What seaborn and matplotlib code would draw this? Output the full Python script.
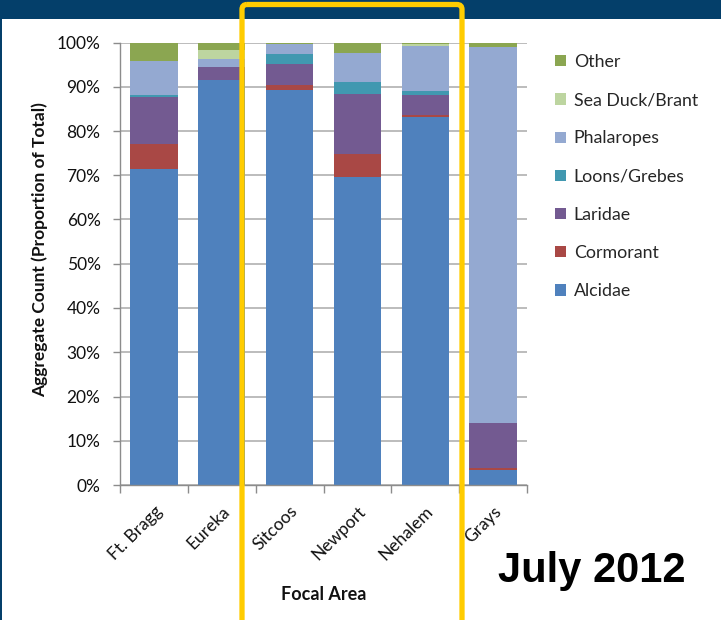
import matplotlib
matplotlib.use("Agg")
import matplotlib.pyplot as plt
import matplotlib.ticker as mticker
from matplotlib.patches import Rectangle, FancyBboxPatch
import numpy as np
import pandas as pd
import seaborn as sns

# Survey areas along the coast
areas = ["Ft. Bragg", "Eureka", "Sitcoos", "Newport", "Nehalem", "Grays"]

# Share of the aggregate count (%) per group, bottom of stack first
alcidae     = [71.4, 91.5, 89.2, 69.5, 83.1, 3.5]
cormorant   = [5.6, 0.0, 1.1, 5.4, 0.6, 0.3]
laridae     = [10.6, 2.9, 4.8, 13.4, 4.4, 10.2]
loons       = [0.5, 0.0, 2.4, 2.7, 1.0, 0.0]
phalaropes  = [7.7, 1.8, 2.1, 6.6, 10.0, 84.9]
sea_duck    = [0.0, 2.1, 0.0, 0.0, 0.6, 0.0]
other       = [4.2, 1.7, 0.4, 2.4, 0.3, 1.1]

groups = ["Alcidae", "Cormorant", "Laridae", "Loons/Grebes",
          "Phalaropes", "Sea Duck/Brant", "Other"]
series = [alcidae, cormorant, laridae, loons, phalaropes, sea_duck, other]

palette = {
    "Alcidae": "#4f81bd",
    "Cormorant": "#a94845",
    "Laridae": "#735a91",
    "Loons/Grebes": "#4198b0",
    "Phalaropes": "#94a9d1",
    "Sea Duck/Brant": "#bdd5a0",
    "Other": "#8ba651",
}

# Cumulative tops so each layer can be drawn over the one above it
cum = np.cumsum(np.array(series), axis=0)
rows = []
for g, tops in zip(groups, cum):
    for a, t in zip(areas, tops):
        rows.append({"area": a, "group": g, "top": t / 100.0})
df = pd.DataFrame(rows)

sns.set_style("white")
plt.rcParams["font.family"] = ["Lato", "DejaVu Sans"]

W, H = 721, 620
fig = plt.figure(figsize=(W / 100, H / 100), dpi=100)
ax = fig.add_axes([120 / W, 1 - 485 / H, 407 / W, 442.5 / H])

draw_order = groups[::-1]  # Other (tallest) first, Alcidae last
sns.barplot(data=df, x="area", y="top", hue="group", hue_order=draw_order,
            palette=palette, dodge=False, width=0.7, saturation=1,
            linewidth=0, order=areas, ax=ax, legend=True)

ax.set_ylim(0, 1)
ax.set_xlim(-0.5, len(areas) - 0.5)
ax.yaxis.set_major_locator(mticker.MultipleLocator(0.1))
ax.yaxis.set_major_formatter(mticker.PercentFormatter(1.0, decimals=0))
ax.yaxis.grid(True, color="#bcbcbc", lw=1.4)
ax.xaxis.grid(False)
ax.set_axisbelow(True)

for s in ["top", "right"]:
    ax.spines[s].set_visible(False)
for s in ["left", "bottom"]:
    ax.spines[s].set_color("#8c8c8c")
    ax.spines[s].set_linewidth(1.0)

ax.tick_params(axis="y", length=5, width=1, color="#8c8c8c", pad=9,
               labelsize=12.5, labelcolor="#111111", left=True)
ax.set_xticks(range(len(areas)))
ax.set_xticklabels(areas, rotation=45, ha="right", rotation_mode="anchor",
                   fontsize=12.5, color="#111111")
ax.tick_params(axis="x", which="major", length=0, pad=13)
ax.set_xticks(np.arange(-0.5, len(areas)), minor=True)
ax.tick_params(axis="x", which="minor", length=6, width=1, color="#8c8c8c",
               bottom=True)

ax.set_ylabel("Aggregate Count (Proportion of Total)", fontsize=12.5,
              fontweight="bold", color="#111111")
ax.yaxis.set_label_coords(-0.176, 0.531)
ax.set_xlabel("Focal Area", fontsize=13, fontweight="bold", color="#111111")
ax.xaxis.set_label_coords(0.5, -0.228)

handles, labels = ax.get_legend_handles_labels()
ax.get_legend().remove()
fig.legend(handles, labels, loc="upper left",
           bbox_to_anchor=(555 / W, 1 - 54 / H), frameon=False,
           fontsize=12.8, handlelength=0.6, handleheight=0.6,
           handletextpad=0.45, labelspacing=1.25, borderaxespad=0,
           borderpad=0)

fig.text(592 / W, 1 - 571 / H, "July 2012", fontsize=30, fontweight="bold",
         family="Liberation Sans", ha="center", va="center", color="black")

# Slide frame: header band, left border and the highlight box
ov = fig.add_axes([0, 0, 1, 1], zorder=10)
ov.set_xlim(0, W)
ov.set_ylim(H, 0)
ov.axis("off")
ov.patch.set_visible(False)
ov.add_patch(Rectangle((0, 0), W, 19, color="#043f6a", lw=0))
ov.add_patch(Rectangle((0, 0), 2, H, color="#043f6a", lw=0))
ov.add_patch(FancyBboxPatch((242, 4.5), 220, 700,
                            boxstyle="round,pad=0,rounding_size=5",
                            fill=False, edgecolor="#ffcc00", lw=3.8))

fig.savefig("out.png", dpi=100)
